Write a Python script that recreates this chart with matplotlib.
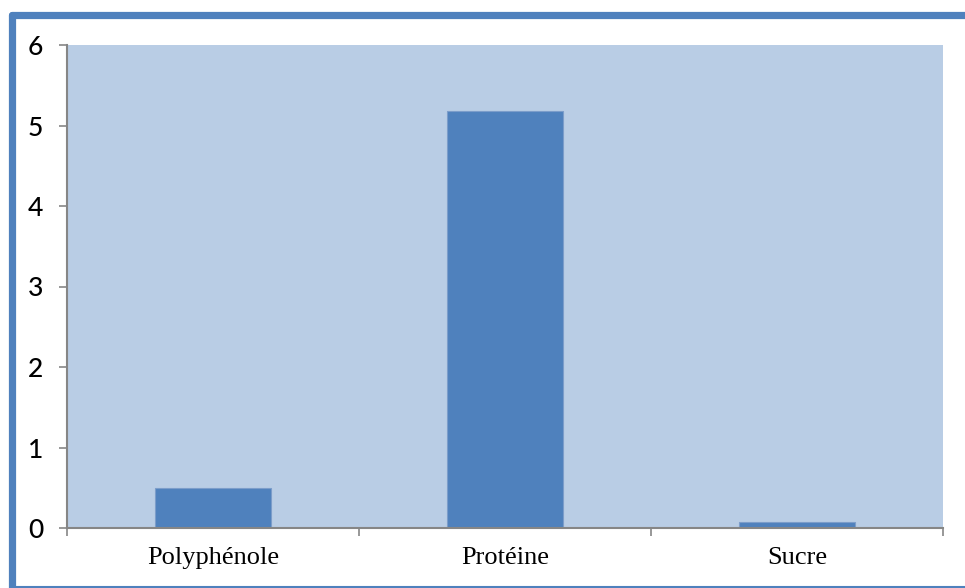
import matplotlib
matplotlib.use("Agg")
import matplotlib.pyplot as plt
from matplotlib.lines import Line2D

categories = ["Polyphénole", "Protéine", "Sucre"]
values = [0.5, 5.18, 0.07]
y_ticks = [0, 1, 2, 3, 4, 5, 6]

W, H, DPI = 965, 588, 100
fig = plt.figure(figsize=(W / DPI, H / DPI), dpi=DPI)
fig.patch.set_facecolor("white")

ax = fig.add_axes([67 / W, (H - 528) / H, (943 - 67) / W, (528 - 45) / H])
ax.set_facecolor("#B9CDE5")

x = range(len(categories))
ax.bar(x, values, width=0.4, color="#4F81BD", edgecolor="#7C9DCA", linewidth=0.8, zorder=3)

ax.set_xlim(-0.5, len(categories) - 0.5)
ax.set_ylim(0, 6)
ax.set_yticks(y_ticks)
ax.set_yticklabels([str(t) for t in y_ticks], family="Lato", fontsize=19,
                   fontweight="medium", color="black")
ax.tick_params(axis="y", direction="out", length=6, width=1.2, color="#868686", pad=11)

ax.set_xticks(list(x))
ax.set_xticklabels(categories, family="Liberation Serif", fontsize=19, color="black")
ax.tick_params(axis="x", which="major", length=0, pad=14)
ax.set_xticks([i - 0.5 for i in range(len(categories) + 1)], minor=True)
ax.tick_params(axis="x", which="minor", direction="out", length=6, width=1.2, color="#868686")

for side in ("top", "right"):
    ax.spines[side].set_visible(False)
for side in ("left", "bottom"):
    ax.spines[side].set_color("#868686")
    ax.spines[side].set_linewidth(1.5)
    ax.spines[side].set_zorder(4)

# Frame around the chart
def px(xp, yp):
    return xp / W, 1 - yp / H

blue = "#4F81BD"
x0, y0 = px(11.5, 14.5)
x1, _ = px(W + 5, 0)
_, yb = px(0, 586.5)
fig.add_artist(Line2D([x0, x0], [y0, -0.01], color=blue, lw=5.2, solid_capstyle="round"))
fig.add_artist(Line2D([x0, x1], [y0, y0], color=blue, lw=5.2, solid_capstyle="round"))
fig.add_artist(Line2D([x0, x1], [yb, yb], color=blue, lw=1.5))

fig.savefig("out.png", dpi=DPI, facecolor="white")
